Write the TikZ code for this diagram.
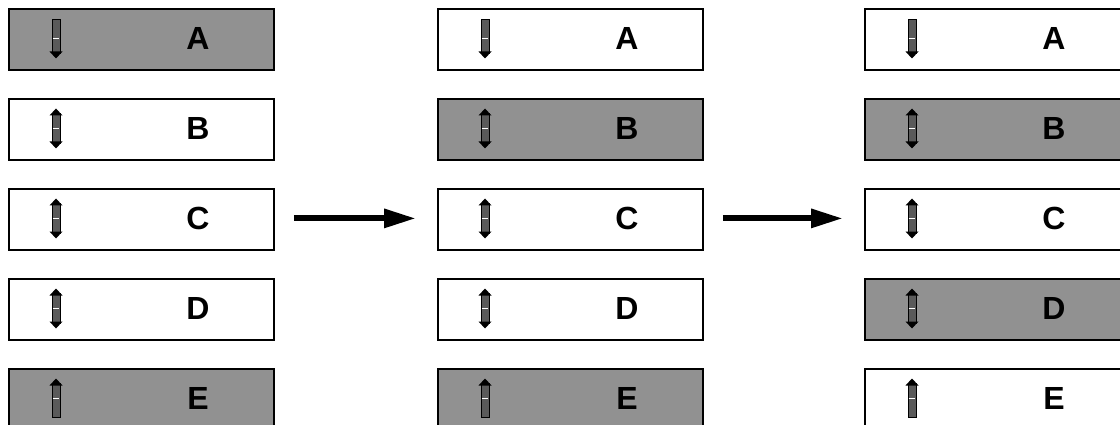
\documentclass[tikz,border=0pt]{standalone}
\usepackage{fontspec}
\setmainfont{Liberation Sans}
\usetikzlibrary{arrows.meta}
\definecolor{shade}{RGB}{145,145,145}
\definecolor{iconfill}{RGB}{90,90,90}
\tikzset{
  cell/.style={draw=black, line width=1.8pt, minimum width=265pt, minimum height=61pt,
    inner sep=0pt, anchor=north west},
  lit/.style={cell, fill=shade},
  plain/.style={cell, fill=white},
  letter/.style={font=\bfseries\fontsize{32}{36}\selectfont, inner sep=0pt},
  bigarrow/.style={line width=6pt, -{Triangle[length=32pt,width=18pt]}},
  bar/.style={draw=black, line width=1pt, fill=iconfill},
  tip/.style={fill=black},
  pics/both/.style={code={
    \draw[bar] (-4,-15) rectangle (4,15);
    \draw[white, line width=1.2pt] (-3.4,0) -- (3.4,0);
    \fill[tip] (-6.5,-13) -- (6.5,-13) -- (0,-20) -- cycle;
    \fill[tip] (-6.5,13) -- (6.5,13) -- (0,20) -- cycle;
  }},
  pics/down/.style={code={
    \draw[bar] (-4,-19) rectangle (4,15);
    \draw[white, line width=1.2pt] (-3.4,0) -- (3.4,0);
    \fill[tip] (-6.5,13) -- (6.5,13) -- (0,20) -- cycle;
  }},
  pics/up/.style={code={
    \draw[bar] (-4,-15) rectangle (4,19);
    \draw[white, line width=1.2pt] (-3.4,0) -- (3.4,0);
    \fill[tip] (-6.5,-13) -- (6.5,-13) -- (0,-20) -- cycle;
  }}
}
\begin{document}
\begin{tikzpicture}[x=1pt,y=-1pt]
\useasboundingbox (0,0) rectangle (1120,425);
% column 1
\node[lit]   (a1) at (8,8)   {};
\node[plain] (b1) at (8,98)  {};
\node[plain] (c1) at (8,188) {};
\node[plain] (d1) at (8,278) {};
\node[lit]   (e1) at (8,368) {};
% column 2
\node[plain] (a2) at (437,8)   {};
\node[lit]   (b2) at (437,98)  {};
\node[plain] (c2) at (437,188) {};
\node[plain] (d2) at (437,278) {};
\node[lit]   (e2) at (437,368) {};
% column 3
\node[plain] (a3) at (864,8)   {};
\node[lit]   (b3) at (864,98)  {};
\node[plain] (c3) at (864,188) {};
\node[lit]   (d3) at (864,278) {};
\node[plain] (e3) at (864,368) {};
% labels and icons
\foreach \col/\x in {1/8, 2/437, 3/864}{
  \foreach \row/\y/\t in {a/38.5/A, b/128.5/B, c/218.5/C, d/308.5/D, e/398.5/E}{
    \node[letter] (l\row\col) at (\x+190,\y) {\t};
  }
  \pic at (\x+48,38.5) {down};
  \pic at (\x+48,128.5) {both};
  \pic at (\x+48,218.5) {both};
  \pic at (\x+48,308.5) {both};
  \pic at (\x+48,398.5) {up};
}
% arrows
\draw[bigarrow, shorten <=19pt, shorten >=21pt] ([yshift=1pt]c1.east) -- ([yshift=1pt]c2.west);
\draw[bigarrow, shorten <=19pt, shorten >=21pt] ([yshift=1pt]c2.east) -- ([yshift=1pt]c3.west);
\end{tikzpicture}
\end{document}
